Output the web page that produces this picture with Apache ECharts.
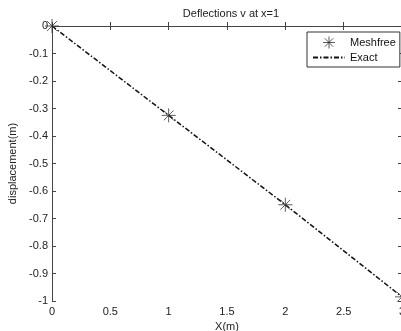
<!DOCTYPE html>
<html>
<head>
<meta charset="utf-8">
<script src="https://cdn.jsdelivr.net/npm/echarts@6/dist/echarts.min.js"></script>
<style>
  html, body { margin: 0; padding: 0; background: #fff; overflow: hidden; }
  #chart { width: 406px; height: 331px; }
</style>
</head>
<body>
<div id="chart"></div>
<script>
const xValues = [0, 1, 2, 3]
const meshfree = [0, -0.325, -0.65, -0.985]
const exact = [0, -0.325, -0.65, -0.985]
const xTicks = [0, 0.5, 1, 1.5, 2, 2.5, 3]
const yTicks = [0, -0.1, -0.2, -0.3, -0.4, -0.5, -0.6, -0.7, -0.8, -0.9, -1]

const font = 'Liberation Sans, Arial, sans-serif'
const axisColor = '#444'
const star = 'path://M0,5L10,5M5,0L5,10M1.5,1.5L8.5,8.5M8.5,1.5L1.5,8.5'
const starStyle = { color: 'rgba(0,0,0,0)', borderColor: '#333', borderWidth: 1 }

const chart = echarts.init(document.getElementById('chart'))

// box-style axes: bottom/left carry labels, top/right only ticks
const xBase = {
  type: 'value', min: 0, max: 3, interval: 0.5,
  axisLine: { lineStyle: { color: axisColor, width: 1 } },
  axisTick: { inside: true, length: 4, lineStyle: { color: axisColor } },
  splitLine: { show: false },
}
const yBase = {
  type: 'value', min: -1, max: 0, interval: 0.1,
  axisLine: { onZero: false, lineStyle: { color: axisColor, width: 1 } },
  axisTick: { inside: true, length: 4, lineStyle: { color: axisColor } },
  splitLine: { show: false },
}

chart.setOption({
  animation: false,
  textStyle: { fontFamily: font },
  title: {
    text: 'Deflections v at x=1',
    left: 226, top: 3, textAlign: 'center',
    textStyle: { fontSize: 11, fontWeight: 'normal', color: '#222', fontFamily: font },
  },
  grid: { left: 52, top: 26, right: 4, bottom: 30, outerBoundsMode: 'none', containLabel: false },
  legend: {
    left: 307, top: 32,
    orient: 'vertical',
    backgroundColor: '#fff',
    borderColor: '#333', borderWidth: 1,
    padding: [4, 4, 4, 5],
    itemGap: 3, itemWidth: 32, itemHeight: 12,
    textStyle: { fontSize: 11, color: '#111', fontFamily: font },
    data: [
      { name: 'Meshfree', itemStyle: starStyle },
      { name: 'Exact', itemStyle: { opacity: 0 } },
    ],
  },
  xAxis: [
    Object.assign({}, xBase, {
      position: 'bottom',
      name: 'X(m)', nameLocation: 'middle', nameGap: 16,
      nameTextStyle: { fontSize: 11, color: '#222' },
      axisLabel: {
        fontSize: 11, color: '#222', margin: 5,
        formatter: (v) => (xTicks.includes(v) ? String(v) : ''),
      },
    }),
    Object.assign({}, xBase, { position: 'top', axisLabel: { show: false } }),
  ],
  yAxis: [
    Object.assign({}, yBase, {
      position: 'left',
      name: 'displacement(m)', nameLocation: 'middle', nameGap: 29,
      nameTextStyle: { fontSize: 11, color: '#222' },
      axisLabel: {
        fontSize: 11, color: '#222', margin: 4,
        formatter: (v) => {
          const t = yTicks.find((k) => Math.abs(k - v) < 1e-9)
          return t === undefined ? '' : String(t)
        },
      },
    }),
    Object.assign({}, yBase, { position: 'right', axisLabel: { show: false } }),
  ],
  series: [
    {
      name: 'Meshfree',
      type: 'scatter',
      data: xValues.map((x, i) => [x, meshfree[i]]),
      symbol: star,
      symbolSize: 14,
      itemStyle: starStyle,
      clip: false,
      z: 3,
    },
    {
      name: 'Exact',
      type: 'line',
      data: xValues.map((x, i) => [x, exact[i]]),
      symbol: 'none',
      color: '#111',
      lineStyle: { color: '#111', width: 1.5, type: [5, 2, 1.5, 2] },
      z: 2,
    },
  ],
})
</script>
</body>
</html>
